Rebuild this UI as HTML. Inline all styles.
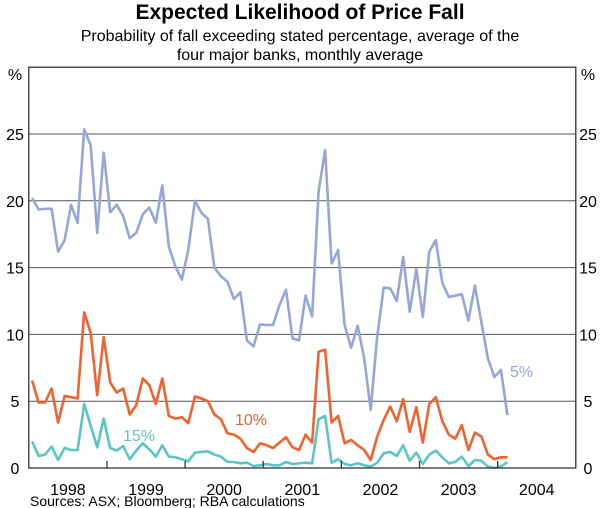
<!DOCTYPE html>
<html><head><meta charset="utf-8"><style>
body{margin:0;background:#fff;}
svg{display:block;font-family:"Liberation Sans",Arial,sans-serif;}
</style></head><body>
<svg id="chart" width="600" height="508" viewBox="0 0 600 508" xmlns="http://www.w3.org/2000/svg">
<text x="300" y="19" text-anchor="middle" font-size="21" font-weight="bold">Expected Likelihood of Price Fall</text>
<text x="300" y="41" text-anchor="middle" font-size="16">Probability of fall exceeding stated percentage, average of the</text>
<text x="300" y="60" text-anchor="middle" font-size="16">four major banks, monthly average</text>
<g id="grid"></g>
<g id="series"></g>
<g id="axes"></g>
<text x="30" y="506" font-size="14">Sources: ASX; Bloomberg; RBA calculations</text>
</svg>
<script>
const yTicks = [0,5,10,15,20,25];
const years = [1998,1999,2000,2001,2002,2003,2004];
const seriesNames = ["5%","10%","15%"];
const s5 = [20.2,19.35,19.4,19.4,16.2,17.05,19.7,18.35,25.35,24.15,17.6,23.6,19.15,19.7,18.85,17.2,17.6,19.0,19.5,18.35,21.15,16.6,15.1,14.1,16.35,20.0,19.1,18.65,15.0,14.35,13.95,12.65,13.15,9.55,9.1,10.75,10.7,10.7,12.2,13.35,9.7,9.55,12.9,11.35,20.7,23.8,15.3,16.3,10.7,9.0,10.65,8.2,4.35,9.85,13.5,13.45,12.5,15.8,11.7,14.9,11.3,16.2,17.05,13.85,12.8,12.9,13.0,11.05,13.65,10.9,8.2,6.8,7.35,3.95];
const s10 = [6.55,4.9,4.9,5.95,3.4,5.4,5.3,5.2,11.65,10.1,5.45,9.8,6.4,5.65,5.95,4.0,4.7,6.7,6.2,4.8,6.7,3.9,3.7,3.8,3.35,5.35,5.2,5.0,4.0,3.65,2.6,2.5,2.2,1.5,1.2,1.85,1.7,1.5,1.9,2.3,1.55,1.35,2.5,1.9,8.7,8.85,3.4,3.9,1.85,2.1,1.7,1.35,0.6,2.35,3.6,4.6,3.5,5.15,2.7,4.55,1.9,4.8,5.3,3.5,2.5,2.2,3.2,1.35,2.65,2.35,1.0,0.65,0.8,0.8];
const s15 = [2.0,0.9,1.0,1.6,0.6,1.5,1.35,1.35,4.8,3.15,1.55,3.7,1.5,1.3,1.65,0.65,1.3,1.85,1.4,0.85,1.7,0.85,0.8,0.65,0.5,1.15,1.2,1.25,1.0,0.85,0.45,0.45,0.35,0.4,0.15,0.2,0.3,0.2,0.2,0.45,0.3,0.35,0.4,0.35,3.65,3.9,0.4,0.65,0.3,0.2,0.35,0.2,0.1,0.4,1.1,1.2,0.9,1.7,0.55,1.15,0.3,1.0,1.3,0.8,0.35,0.45,0.85,0.15,0.6,0.55,0.1,0,0.1,0.45];
const startYear = 1998, endYear = 2005, yMax = 30;
const L = 28.8, R = 575.8, T = 67.2, B = 468;
function xScale(t){ return L + (t - startYear) / (endYear - startYear) * (R - L); }
function yScale(v){ return B - v / yMax * (B - T); }
const NS = "http://www.w3.org/2000/svg";
function mk(tag, attrs, parent, text){
  const e = document.createElementNS(NS, tag);
  for (const k in attrs) e.setAttribute(k, attrs[k]);
  if (text !== undefined) e.textContent = text;
  parent.appendChild(e); return e;
}
const grid = document.getElementById('grid');
const axes = document.getElementById('axes');
const series = document.getElementById('series');
yTicks.forEach(v => {
  if (v > 0) {
    const g = mk('line', {x1:L, x2:R, y1:yScale(v), y2:yScale(v), stroke:'#555', 'stroke-width':1}, grid);
    
    
  }
  const tl = mk('text', {x:15, y:yScale(v)+6, 'text-anchor':'middle', 'font-size':16}, axes, String(v));
  
  
  const tr = mk('text', {x:588, y:yScale(v)+6, 'text-anchor':'middle', 'font-size':16}, axes, String(v));
  
  
});
const pl = mk('text', {x:15, y:80, 'text-anchor':'middle', 'font-size':16}, axes, '%');


const pr = mk('text', {x:588, y:80, 'text-anchor':'middle', 'font-size':16}, axes, '%');


const frame = mk('rect', {x:L, y:T, width:R-L, height:B-T, fill:'none', stroke:'#333', 'stroke-width':1.3}, axes);


years.forEach(yr => {
  if (yr > startYear) {
    const tk = mk('line', {x1:xScale(yr), x2:xScale(yr), y1:B, y2:B-7, stroke:'#333', 'stroke-width':1.3}, axes);
    
    
  }
  const lb = mk('text', {x:xScale(yr+0.5), y:495, 'text-anchor':'middle', 'font-size':16}, axes, String(yr));
  
  
});
function drawLine(data, color, name){
  const pts = data.map((v,i) => xScale(startYear + (i+0.5)/12).toFixed(1) + ',' + yScale(v).toFixed(1)).join(' ');
  const p = mk('polyline', {points:pts, fill:'none', stroke:color, 'stroke-width':2.6, 'stroke-linejoin':'round'}, series);
  
  
}
drawLine(s5, '#96a6d8', 'series-5-percent');
drawLine(s10, '#f2622e', 'series-10-percent');
drawLine(s15, '#5ac6c6', 'series-15-percent');
const l5 = mk('text', {x:510, y:377, 'font-size':16, fill:'#96a6d8'}, axes, seriesNames[0]);


const l10 = mk('text', {x:235, y:425, 'font-size':16, fill:'#f2622e'}, axes, seriesNames[1]);


const l15 = mk('text', {x:123, y:441, 'font-size':16, fill:'#5ac6c6'}, axes, seriesNames[2]);


</script>
</body></html>
